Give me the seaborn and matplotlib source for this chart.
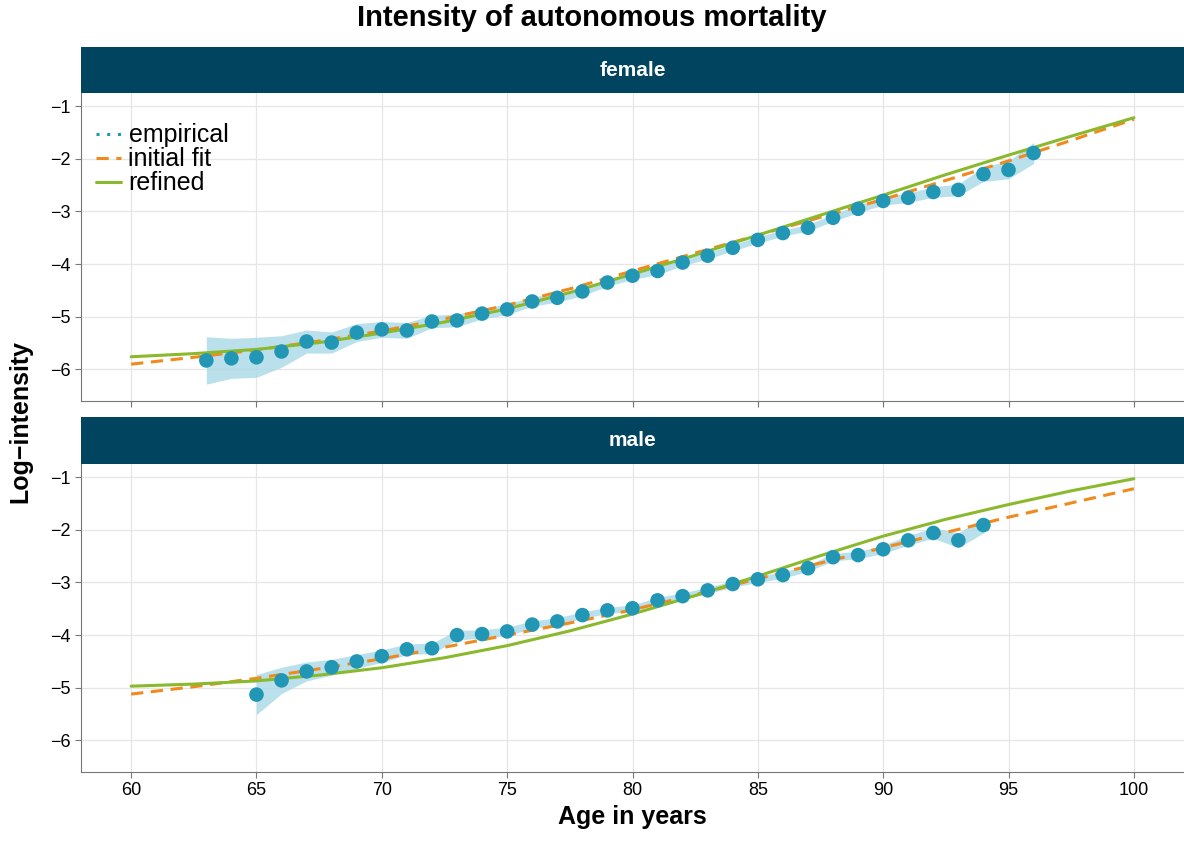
import matplotlib
matplotlib.use("Agg")
import matplotlib.pyplot as plt
import seaborn as sns
import numpy as np
import pandas as pd
from matplotlib.lines import Line2D

sns.set_style("white")
plt.rcParams['font.family'] = ['Liberation Sans', 'DejaVu Sans']
plt.rcParams['text.color'] = 'black'
plt.rcParams['axes.labelcolor'] = 'black'

f_age = list(range(63, 97))
f_emp = [-5.83,-5.79,-5.77,-5.66,-5.47,-5.49,-5.30,-5.24,-5.26,-5.09,-5.07,-4.94,-4.86,-4.71,-4.64,-4.52,-4.35,
         -4.22,-4.13,-3.97,-3.84,-3.69,-3.54,-3.41,-3.31,-3.12,-2.95,-2.80,-2.74,-2.63,-2.59,-2.29,-2.21,-1.89]
f_hw = [0.45,0.38,0.38,0.30,0.22,0.20,0.17,0.15,0.15,0.12,0.12,0.10,0.10,0.09,0.08,0.08,0.07,
        0.07,0.07,0.06,0.06,0.06,0.06,0.06,0.06,0.07,0.07,0.08,0.09,0.10,0.11,0.14,0.17,0.20]
m_age = list(range(65, 95))
m_emp = [-5.13,-4.86,-4.69,-4.61,-4.50,-4.40,-4.27,-4.25,-4.00,-3.98,-3.93,-3.80,-3.74,-3.62,-3.53,-3.49,
         -3.34,-3.26,-3.15,-3.03,-2.94,-2.86,-2.73,-2.52,-2.48,-2.37,-2.20,-2.06,-2.20,-1.91]
m_hw = [0.38,0.25,0.18,0.15,0.13,0.12,0.10,0.10,0.09,0.08,0.08,0.07,0.07,0.06,0.06,0.06,
        0.06,0.06,0.06,0.06,0.06,0.06,0.06,0.07,0.07,0.08,0.09,0.10,0.14,0.15]

fit_age = [60, 62.5, 65, 67.5, 70, 72.5, 75, 77.5, 80, 82.5, 85, 87.5, 90, 92.5, 95, 97.5, 100]
f_init = [-5.90,-5.77,-5.63,-5.46,-5.27,-5.04,-4.78,-4.47,-4.13,-3.79,-3.45,-3.11,-2.77,-2.41,-2.04,-1.65,-1.25]
f_ref  = [-5.76,-5.70,-5.62,-5.49,-5.31,-5.10,-4.85,-4.54,-4.19,-3.83,-3.45,-3.07,-2.69,-2.30,-1.93,-1.57,-1.22]
m_init = [-5.12,-4.98,-4.82,-4.64,-4.45,-4.23,-4.00,-3.77,-3.52,-3.23,-2.93,-2.63,-2.34,-2.05,-1.76,-1.49,-1.22]
m_ref  = [-4.97,-4.93,-4.87,-4.76,-4.62,-4.43,-4.20,-3.92,-3.60,-3.25,-2.88,-2.49,-2.12,-1.80,-1.52,-1.26,-1.03]

C_PT = "#2196b5"; C_RIB = "#a9d9e6"; C_OR = "#f08a1c"; C_GR = "#8ab92d"; C_STRIP = "#00445f"

fig = plt.figure(figsize=(11.84, 8.43), dpi=100)
W, H = 1184, 843
def rect(x0, y0, x1, y1):
    return [x0/W, 1-y1/H, (x1-x0)/W, (y1-y0)/H]

panels = [("female", f_age, f_emp, f_hw, f_init, f_ref, 47, 93, 401),
          ("male", m_age, m_emp, m_hw, m_init, m_ref, 417, 464, 772)]
for i, (name, age, emp, hw, ini, ref, s0, a0, a1) in enumerate(panels):
    sax = fig.add_axes(rect(81, s0, 1184, a0))
    sax.set_facecolor(C_STRIP)
    sax.set_xticks([]); sax.set_yticks([])
    for sp in sax.spines.values(): sp.set_visible(False)
    sax.text(0.5, 0.5, name, color="white", fontsize=15, fontweight="bold", ha="center", va="center", transform=sax.transAxes)
    ax = fig.add_axes(rect(81, a0, 1184, a1))
    ax.set_xlim(58, 102); ax.set_ylim(-6.6, -0.75)
    ax.set_xticks(range(60, 101, 5)); ax.set_yticks(range(-6, 0))
    ax.grid(True, which="major", color="#e6e6e6", lw=0.9)
    ax.set_axisbelow(True)
    for k in ["top", "right"]: ax.spines[k].set_visible(False)
    for k in ["left", "bottom"]: ax.spines[k].set_color("#777777"); ax.spines[k].set_linewidth(0.8)
    e = np.array(emp); h = np.array(hw)
    ax.fill_between(age, e-h, e+h, color=C_RIB, alpha=0.8, lw=0)
    sns.lineplot(x=fit_age, y=ini, ax=ax, color=C_OR, lw=2.2, linestyle=(0, (4, 2.5)))
    sns.lineplot(x=fit_age, y=ref, ax=ax, color=C_GR, lw=2.2)
    sns.scatterplot(x=age, y=emp, ax=ax, color=C_PT, s=110, edgecolor="none", zorder=5)
    ax.tick_params(labelsize=13, labelcolor="black", length=4, color="#777777", left=True, bottom=True)
    ax.set_xlabel(""); ax.set_ylabel("")
    if i == 0:
        ax.set_xticklabels([])
        handles = [Line2D([], [], color=C_PT, lw=2.2, linestyle=(0, (1, 2.5))),
                   Line2D([], [], color=C_OR, lw=2.2, linestyle=(0, (4, 2.5))),
                   Line2D([], [], color=C_GR, lw=2.2)]
        ax.legend(handles, ["empirical", "initial fit", "refined"], loc="upper left", frameon=False,
                  fontsize=18, handlelength=1.0, handletextpad=0.3, labelspacing=0.0,
                  borderaxespad=0.2, bbox_to_anchor=(0.0, 0.95))
    else:
        ax.set_xlabel("Age in years", fontsize=18, fontweight="bold")

fig.text(0.5, 1-18/H, "Intensity of autonomous mortality", fontsize=21, fontweight="bold", ha="center", va="center")
fig.text(20/W, 0.5, "Log\u2212intensity", fontsize=18, fontweight="bold", rotation=90, ha="center", va="center")
fig.savefig("out.png", dpi=100)
